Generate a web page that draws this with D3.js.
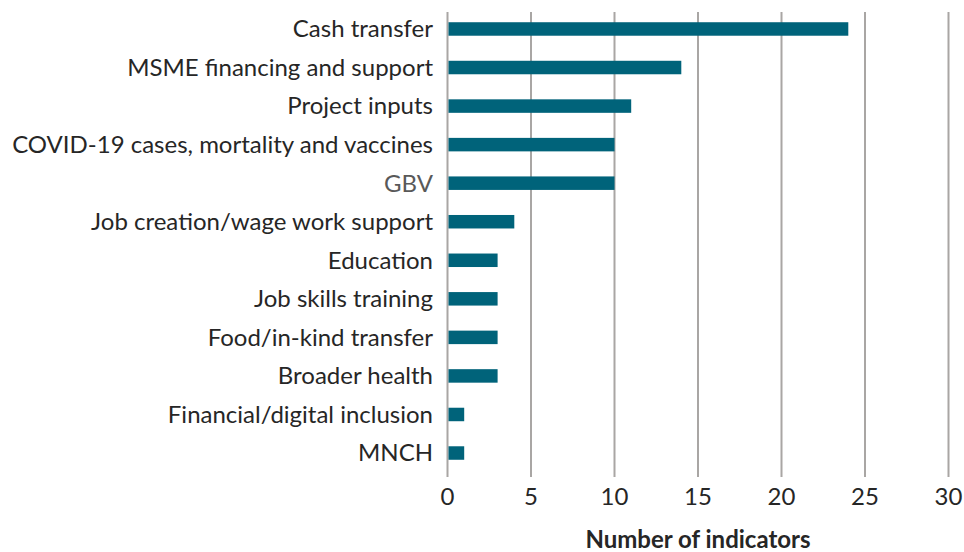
<!DOCTYPE html>
<html>
<head>
<meta charset="utf-8">
<script src="https://cdn.jsdelivr.net/npm/d3@7"></script>
<style>
  body { margin: 0; background: #fff; }
  text { font-family: Lato, "Open Sans", sans-serif; }
</style>
</head>
<body>
<div id="chart"></div>
<script>
// categories, top to bottom
const categories = [
  "Cash transfer",
  "MSME financing and support",
  "Project inputs",
  "COVID-19 cases, mortality and vaccines",
  "GBV",
  "Job creation/wage work support",
  "Education",
  "Job skills training",
  "Food/in-kind transfer",
  "Broader health",
  "Financial/digital inclusion",
  "MNCH"
];
const counts = [24, 14, 11, 10, 10, 4, 3, 3, 3, 3, 1, 1];
const xTicks = [0, 5, 10, 15, 20, 25, 30];

const width = 964, height = 552;

const svg = d3.select("#chart")
  .append("svg")
  .attr("width", width)
  .attr("height", height);

const x = d3.scaleLinear()
  .domain([0, 30])
  .range([447.5, 948.5]);

const y = d3.scaleBand()
  .domain(categories)
  .range([9.7, 472.3])
  .paddingInner(0.65)
  .paddingOuter(0.325);

// gridlines
svg.append("g")
  .selectAll("line")
  .data(xTicks)
  .enter()
  .append("line")
  .attr("x1", d => x(d))
  .attr("x2", d => x(d))
  .attr("y1", 12)
  .attr("y2", 477)
  .attr("stroke", "#a9a6a4")
  .attr("stroke-width", 2);

// bars
svg.append("g")
  .selectAll("rect")
  .data(categories)
  .enter()
  .append("rect")
  .attr("x", x(0) + 1)
  .attr("y", d => y(d))
  .attr("width", (d, i) => x(counts[i]) - x(0) - 1)
  .attr("height", y.bandwidth())
  .attr("fill", "#00637a");

// category labels
svg.append("g")
  .selectAll("text")
  .data(categories)
  .enter()
  .append("text")
  .attr("x", 433)
  .attr("y", d => y(d) + y.bandwidth() / 2)
  .attr("dy", "0.35em")
  .attr("text-anchor", "end")
  .style("font-size", "24px")
  .style("fill", d => d === "GBV" ? "#595959" : "#262626")
  .text(d => d);

// x axis tick labels
svg.append("g")
  .selectAll("text")
  .data(xTicks)
  .enter()
  .append("text")
  .attr("x", d => x(d))
  .attr("y", 497)
  .attr("dy", "0.35em")
  .attr("text-anchor", "middle")
  .style("font-size", "24px")
  .style("fill", "#262626")
  .text(d => d);

// axis title
svg.append("text")
  .attr("x", (x(0) + x(30)) / 2)
  .attr("y", 540)
  .attr("dy", "0.35em")
  .attr("text-anchor", "middle")
  .style("font-size", "24px")
  .style("font-weight", "bold")
  .style("fill", "#262626")
  .text("Number of indicators");
</script>
</body>
</html>
